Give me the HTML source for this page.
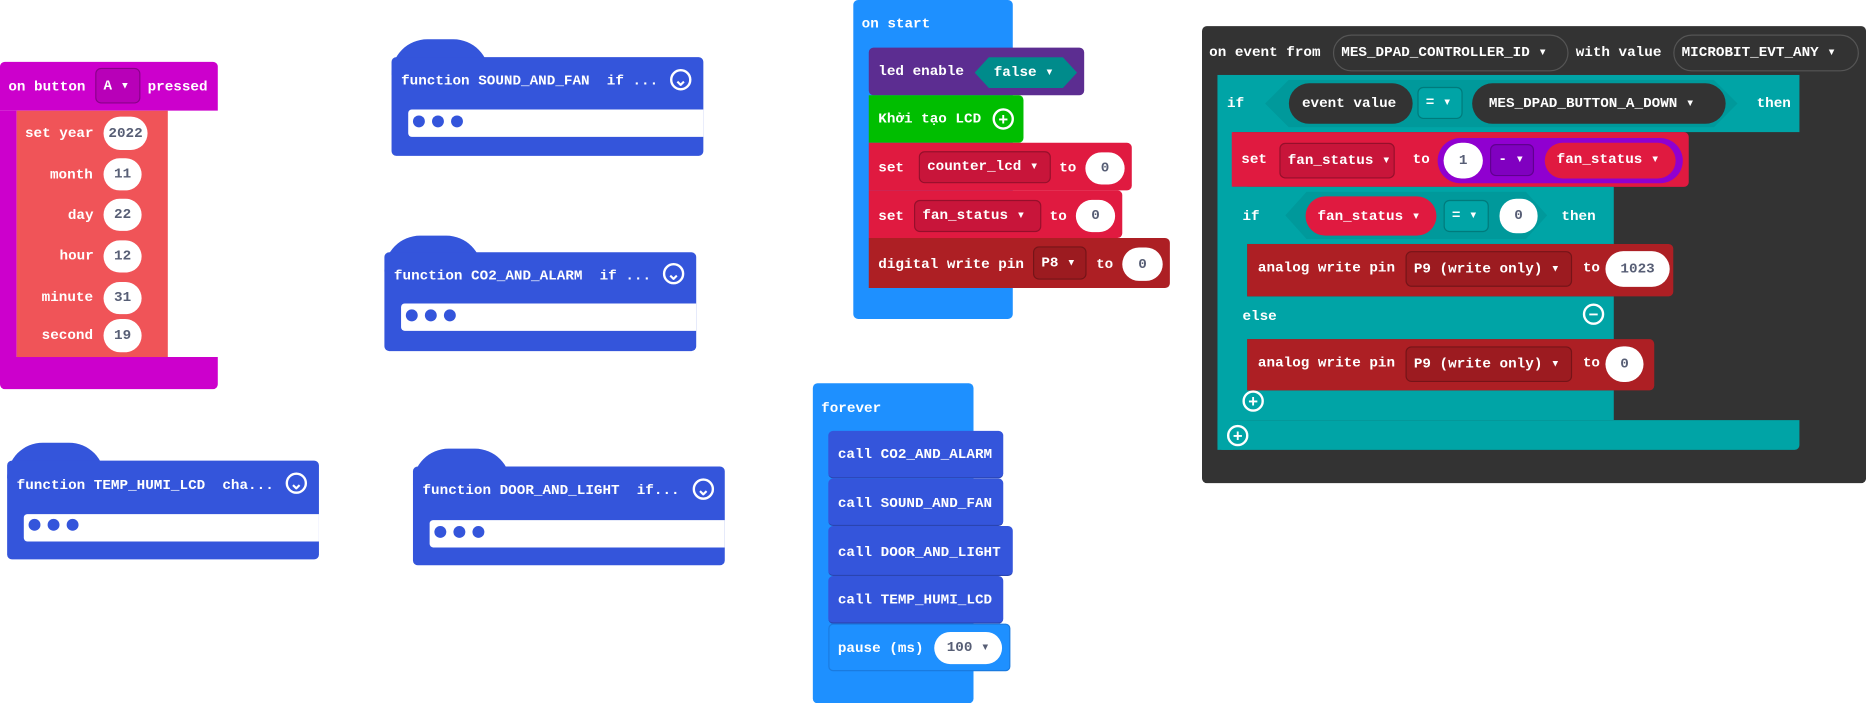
<!DOCTYPE html>
<html><head><meta charset="utf-8"><style>
html,body{margin:0;padding:0;background:#fff;width:1866px;height:703px;overflow:hidden}
#s{position:absolute;left:0;top:0;width:1568px;height:591px;transform:scale(1.1901);transform-origin:0 0}
.b{position:absolute}
.t{position:absolute;color:#fff;font:bold 12px "Liberation Mono",monospace;white-space:pre;line-height:14px}
.o{position:absolute;background:#fff;border-radius:14px;color:#575e75;font:bold 12px "Liberation Mono",monospace;text-align:center}
.d{position:absolute;border:1px solid rgba(0,0,0,.25);border-radius:5px;color:#fff;font:bold 12px "Liberation Mono",monospace;white-space:pre;box-sizing:border-box;padding-left:6px}
.c{position:absolute;width:14px;height:14px;border:2px solid #fff;border-radius:50%;color:#fff;font:bold 14px/14px "Liberation Sans",sans-serif;text-align:center;box-sizing:content-box}
.dots{position:absolute;width:10px;height:10px;border-radius:50%;background:#3455db}
</style></head><body><div id="s">

<!-- on button A pressed -->
<div class="b" style="left:0;top:52px;width:183px;height:41px;background:#cc00cc;border-radius:4px 4px 0 0"></div>
<div class="b" style="left:0;top:93px;width:14px;height:210px;background:#cc00cc"></div>
<div class="b" style="left:0;top:300px;width:183px;height:27px;background:#cc00cc;border-radius:0 0 4px 4px"></div>
<div class="b" style="left:14px;top:93px;width:127px;height:207px;background:#f05458"></div>
<div class="t" style="left:7px;top:66px">on button</div>
<div class="d" style="left:80px;top:57px;width:38px;height:30px;line-height:28px;background:#b800b8">A ▾</div>
<div class="t" style="left:124px;top:66px">pressed</div>
<div class="t" style="left:21px;top:105px">set year</div><div class="o" style="left:87px;top:98px;width:37px;height:28px;line-height:28px">2022</div>
<div class="t" style="left:42px;top:140px">month</div><div class="o" style="left:87px;top:133px;width:32px;height:27px;line-height:27px">11</div>
<div class="t" style="left:57px;top:174px">day</div><div class="o" style="left:87px;top:167px;width:32px;height:27px;line-height:27px">22</div>
<div class="t" style="left:50px;top:208px">hour</div><div class="o" style="left:87px;top:202px;width:32px;height:27px;line-height:27px">12</div>
<div class="t" style="left:35px;top:243px">minute</div><div class="o" style="left:87px;top:237px;width:32px;height:27px;line-height:27px">31</div>
<div class="t" style="left:35px;top:275px">second</div><div class="o" style="left:87px;top:268px;width:32px;height:28px;line-height:28px">19</div>

<!-- function blocks -->
<div class="b" style="left:329px;top:33px;width:82px;height:30px;background:#3455db;border-radius:40px 40px 0 0"></div>
<div class="b" style="left:329px;top:48px;width:262px;height:83px;background:#3455db;border-radius:4px"></div>
<div class="b" style="left:343px;top:92px;width:248px;height:23px;background:#fff;border-radius:3px 0 0 3px"></div>
<div class="dots" style="left:347px;top:97px"></div><div class="dots" style="left:363px;top:97px"></div><div class="dots" style="left:379px;top:97px"></div>
<div class="t" style="left:337px;top:61px">function SOUND_AND_FAN  if ...</div>
<div class="c" style="left:563px;top:58px">⌄</div>

<div class="b" style="left:323px;top:198px;width:82px;height:30px;background:#3455db;border-radius:40px 40px 0 0"></div>
<div class="b" style="left:323px;top:212px;width:262px;height:83px;background:#3455db;border-radius:4px"></div>
<div class="b" style="left:337px;top:255px;width:248px;height:23px;background:#fff;border-radius:3px 0 0 3px"></div>
<div class="dots" style="left:341px;top:260px"></div><div class="dots" style="left:357px;top:260px"></div><div class="dots" style="left:373px;top:260px"></div>
<div class="t" style="left:331px;top:225px">function CO2_AND_ALARM  if ...</div>
<div class="c" style="left:557px;top:221px">⌄</div>

<div class="b" style="left:6px;top:372px;width:82px;height:30px;background:#3455db;border-radius:40px 40px 0 0"></div>
<div class="b" style="left:6px;top:387px;width:262px;height:83px;background:#3455db;border-radius:4px"></div>
<div class="b" style="left:20px;top:432px;width:248px;height:23px;background:#fff;border-radius:3px 0 0 3px"></div>
<div class="dots" style="left:24px;top:436px"></div><div class="dots" style="left:40px;top:436px"></div><div class="dots" style="left:56px;top:436px"></div>
<div class="t" style="left:14px;top:401px">function TEMP_HUMI_LCD  cha...</div>
<div class="c" style="left:240px;top:397px">⌄</div>

<div class="b" style="left:347px;top:377px;width:82px;height:30px;background:#3455db;border-radius:40px 40px 0 0"></div>
<div class="b" style="left:347px;top:392px;width:262px;height:83px;background:#3455db;border-radius:4px"></div>
<div class="b" style="left:361px;top:437px;width:248px;height:23px;background:#fff;border-radius:3px 0 0 3px"></div>
<div class="dots" style="left:365px;top:442px"></div><div class="dots" style="left:381px;top:442px"></div><div class="dots" style="left:397px;top:442px"></div>
<div class="t" style="left:355px;top:405px">function DOOR_AND_LIGHT  if...</div>
<div class="c" style="left:582px;top:402px">⌄</div>

<!-- on start -->
<div class="b" style="left:717px;top:0;width:134px;height:268px;background:#1e90ff;border-radius:4px"></div>
<div class="t" style="left:724px;top:13px">on start</div>
<div class="b" style="left:730px;top:40px;width:181px;height:40px;background:#5c2d91;border-radius:4px"></div>
<div class="t" style="left:738px;top:53px">led enable</div>
<div class="b" style="left:819px;top:48px;width:86px;height:26px;background:#008b8b;clip-path:polygon(12px 0,calc(100% - 12px) 0,100% 50%,calc(100% - 12px) 100%,12px 100%,0 50%)"></div>
<div class="t" style="left:835px;top:54px">false ▾</div>
<div class="b" style="left:730px;top:80px;width:130px;height:40px;background:#00be00;border-radius:0 4px 4px 0"></div>
<div class="t" style="left:738px;top:93px;font-family:'Liberation Mono','Noto Sans CJK SC',monospace">Khởi tạo LCD</div>
<div class="c" style="left:834px;top:91px">+</div>
<div class="b" style="left:730px;top:120px;width:221px;height:40px;background:#e01a40;border-radius:0 4px 4px 0"></div>
<div class="t" style="left:738px;top:134px">set</div>
<div class="d" style="left:772px;top:127px;width:111px;height:27px;line-height:25px;background:#c8153a">counter_lcd ▾</div>
<div class="t" style="left:890px;top:134px">to</div>
<div class="o" style="left:912px;top:128px;width:33px;height:27px;line-height:27px">0</div>
<div class="b" style="left:730px;top:160px;width:213px;height:40px;background:#e01a40;border-radius:0 4px 4px 0"></div>
<div class="t" style="left:738px;top:175px">set</div>
<div class="d" style="left:768px;top:168px;width:107px;height:27px;line-height:25px;background:#c8153a">fan_status ▾</div>
<div class="t" style="left:882px;top:175px">to</div>
<div class="o" style="left:904px;top:168px;width:33px;height:27px;line-height:27px">0</div>
<div class="b" style="left:730px;top:200px;width:253px;height:42px;background:#ad1f24;border-radius:0 4px 4px 0"></div>
<div class="t" style="left:738px;top:215px">digital write pin</div>
<div class="d" style="left:868px;top:207px;width:45px;height:28px;line-height:26px;background:#9c1b20">P8 ▾</div>
<div class="t" style="left:921px;top:215px">to</div>
<div class="o" style="left:943px;top:208px;width:34px;height:28px;line-height:28px">0</div>

<!-- forever -->
<div class="b" style="left:683px;top:322px;width:135px;height:269px;background:#1e90ff;border-radius:4px"></div>
<div class="t" style="left:690px;top:336px">forever</div>
<div class="b" style="left:696px;top:362px;width:147px;height:40px;background:#3455db;border-radius:4px;border-bottom:1px solid #2a45b0;box-sizing:border-box"></div>
<div class="t" style="left:704px;top:375px">call CO2_AND_ALARM</div>
<div class="b" style="left:696px;top:402px;width:147px;height:40px;background:#3455db;border-radius:4px;border-bottom:1px solid #2a45b0;box-sizing:border-box"></div>
<div class="t" style="left:704px;top:416px">call SOUND_AND_FAN</div>
<div class="b" style="left:696px;top:442px;width:155px;height:42px;background:#3455db;border-radius:4px;border-bottom:1px solid #2a45b0;box-sizing:border-box"></div>
<div class="t" style="left:704px;top:457px">call DOOR_AND_LIGHT</div>
<div class="b" style="left:696px;top:484px;width:147px;height:40px;background:#3455db;border-radius:4px;border-bottom:1px solid #2a45b0;box-sizing:border-box"></div>
<div class="t" style="left:704px;top:497px">call TEMP_HUMI_LCD</div>
<div class="b" style="left:696px;top:524px;width:153px;height:40px;background:#1e90ff;border-radius:4px;border:1px solid #1a7be0;box-sizing:border-box"></div>
<div class="t" style="left:704px;top:538px">pause (ms)</div>
<div class="o" style="left:785px;top:531px;width:57px;height:27px;line-height:27px">100 ▾</div>

<!-- on event -->
<div class="b" style="left:1010px;top:22px;width:558px;height:384px;background:#333;border-radius:4px"></div>
<div class="t" style="left:1016px;top:37px">on event from</div>
<div class="d" style="left:1120px;top:29px;width:198px;height:31px;line-height:29px;border-radius:16px;background:#333;border-color:#555">MES_DPAD_CONTROLLER_ID ▾</div>
<div class="t" style="left:1324px;top:37px">with value</div>
<div class="d" style="left:1406px;top:29px;width:156px;height:31px;line-height:29px;border-radius:16px;background:#333;border-color:#555">MICROBIT_EVT_ANY ▾</div>

<div class="b" style="left:1023px;top:63px;width:489px;height:48px;background:#00a4a6"></div>
<div class="b" style="left:1023px;top:63px;width:13px;height:315px;background:#00a4a6"></div>
<div class="b" style="left:1023px;top:353px;width:489px;height:25px;background:#00a4a6;border-radius:0 0 4px 4px"></div>
<div class="t" style="left:1031px;top:80px">if</div>
<div class="b" style="left:1063px;top:67px;width:397px;height:40px;background:#00999b;clip-path:polygon(20px 0,calc(100% - 20px) 0,100% 50%,calc(100% - 20px) 100%,20px 100%,0 50%)"></div>
<div class="b" style="left:1083px;top:70px;width:104px;height:34px;background:#333;border-radius:17px"></div>
<div class="t" style="left:1094px;top:80px">event value</div>
<div class="d" style="left:1191px;top:73px;width:38px;height:27px;line-height:25px;background:#00a4a6">= ▾</div>
<div class="b" style="left:1237px;top:70px;width:213px;height:34px;background:#333;border-radius:17px"></div>
<div class="t" style="left:1251px;top:80px">MES_DPAD_BUTTON_A_DOWN ▾</div>
<div class="t" style="left:1476px;top:80px">then</div>

<div class="b" style="left:1035px;top:111px;width:384px;height:46px;background:#e01a40;border-radius:0 4px 4px 0"></div>
<div class="t" style="left:1043px;top:127px">set</div>
<div class="d" style="left:1075px;top:120px;width:97px;height:30px;line-height:28px;background:#c8153a">fan_status ▾</div>
<div class="t" style="left:1187px;top:127px">to</div>
<div class="b" style="left:1208px;top:116px;width:206px;height:38px;background:#9000d0;border-radius:19px"></div>
<div class="o" style="left:1213px;top:120px;width:33px;height:30px;line-height:30px;border-radius:15px">1</div>
<div class="d" style="left:1252px;top:121px;width:37px;height:27px;line-height:25px;background:#8000c0">- ▾</div>
<div class="b" style="left:1298px;top:120px;width:110px;height:30px;background:#e01a40;border-radius:15px"></div>
<div class="t" style="left:1308px;top:127px">fan_status ▾</div>

<div class="b" style="left:1035px;top:157px;width:321px;height:48px;background:#00a4a6"></div>
<div class="b" style="left:1035px;top:157px;width:13px;height:196px;background:#00a4a6"></div>
<div class="b" style="left:1035px;top:249px;width:321px;height:36px;background:#00a4a6"></div>
<div class="b" style="left:1035px;top:328px;width:321px;height:25px;background:#00a4a6"></div>
<div class="t" style="left:1044px;top:175px">if</div>
<div class="b" style="left:1080px;top:161px;width:220px;height:40px;background:#00999b;clip-path:polygon(18px 0,calc(100% - 18px) 0,100% 50%,calc(100% - 18px) 100%,18px 100%,0 50%)"></div>
<div class="b" style="left:1097px;top:165px;width:110px;height:33px;background:#e01a40;border-radius:17px"></div>
<div class="t" style="left:1107px;top:175px">fan_status ▾</div>
<div class="d" style="left:1213px;top:168px;width:38px;height:27px;line-height:25px;background:#00a4a6">= ▾</div>
<div class="o" style="left:1260px;top:167px;width:32px;height:29px;line-height:29px">0</div>
<div class="t" style="left:1312px;top:175px">then</div>

<div class="b" style="left:1048px;top:205px;width:358px;height:44px;background:#ad1f24;border-radius:0 4px 4px 0"></div>
<div class="t" style="left:1057px;top:218px">analog write pin</div>
<div class="d" style="left:1181px;top:211px;width:140px;height:30px;line-height:28px;background:#9c1b20">P9 (write only) ▾</div>
<div class="t" style="left:1330px;top:218px">to</div>
<div class="o" style="left:1349px;top:211px;width:54px;height:30px;line-height:30px;border-radius:15px">1023</div>
<div class="t" style="left:1044px;top:259px">else</div>
<div class="c" style="left:1330px;top:255px">−</div>
<div class="b" style="left:1048px;top:285px;width:342px;height:43px;background:#ad1f24;border-radius:0 4px 4px 0"></div>
<div class="t" style="left:1057px;top:298px">analog write pin</div>
<div class="d" style="left:1181px;top:291px;width:140px;height:30px;line-height:28px;background:#9c1b20">P9 (write only) ▾</div>
<div class="t" style="left:1330px;top:298px">to</div>
<div class="o" style="left:1349px;top:291px;width:32px;height:30px;line-height:30px;border-radius:15px">0</div>
<div class="c" style="left:1044px;top:328px">+</div>
<div class="c" style="left:1031px;top:357px">+</div>

</div></body></html>
